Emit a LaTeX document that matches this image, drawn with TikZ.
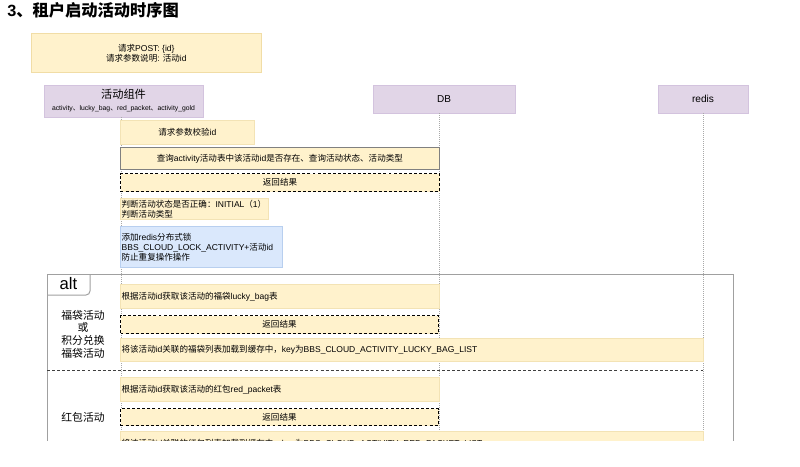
\documentclass[tikz,border=0pt]{standalone}
\usepackage{fontspec}
\setmainfont{Liberation Sans}
\newfontfamily\cjkfont{Noto Sans CJK SC}
\XeTeXinterchartokenstate=1
\newXeTeXintercharclass\cjkclass
\newcount\cjkcnt
\newcommand\setcjkrange[2]{\cjkcnt=#1\relax
  \loop\XeTeXcharclass\cjkcnt=\cjkclass\relax
  \ifnum\cjkcnt<#2\relax\advance\cjkcnt by 1\relax\repeat}
\setcjkrange{"3000}{"303F}
\setcjkrange{"4E00}{"9FFF}
\setcjkrange{"FF00}{"FFEF}
\XeTeXinterchartoks 0 \cjkclass = {\cjkfont}
\XeTeXinterchartoks 4095 \cjkclass = {\cjkfont}
\XeTeXinterchartoks \cjkclass 0 = {\rmfamily}
\XeTeXinterchartoks \cjkclass 4095 = {\rmfamily}
\definecolor{yfill}{HTML}{FFF2CC}
\definecolor{yline}{HTML}{F3E3B5}
\definecolor{pfill}{HTML}{E1D5E7}
\definecolor{pline}{HTML}{D3C3DE}
\definecolor{bfill}{HTML}{DAE8FC}
\definecolor{bline}{HTML}{B8CFEF}
\definecolor{lifeg}{HTML}{A8A8A8}
\definecolor{frameg}{HTML}{A0A0A0}
\definecolor{queryg}{HTML}{808080}
\begin{document}
\begin{tikzpicture}[x=0.75pt,y=-0.75pt,
    msg/.style={fill=yfill,draw=yline,line width=0.5pt,inner sep=0pt,anchor=north west,font=\fontsize{6.4}{7.5}\selectfont},
    msgleft/.style={msg,align=left,inner xsep=1pt},
    ret/.style={msg,draw=black,line width=0.75pt,dash pattern=on 2.2pt off 1.6pt},
    actor/.style={fill=pfill,draw=pline,line width=0.5pt,inner sep=0pt},
    life/.style={draw=lifeg,line width=0.5pt,dash pattern=on 0.75pt off 0.75pt},
    frameline/.style={draw=frameg,line width=0.75pt}]
    \useasboundingbox (0,0) rectangle (800,467);
    \begin{scope}
    \clip (0,0) rectangle (800,440);
    \node[anchor=west,inner sep=0pt,font=\bfseries\fontsize{12.2}{15}\selectfont] (title) at (7,10) {3、租户启动活动时序图};
    \node[msg,draw=yline!120,minimum width=172.5pt,minimum height=29.25pt,align=center] (req) at (31,33) {请求POST: \{id\}\\请求参数说明: 活动id};
    % lifelines
    \node[actor,minimum width=119.25pt,minimum height=24pt] (act) at (123.5,101) {};
    \node[font=\fontsize{8.4}{10}\selectfont,inner sep=0pt] (actT) at (123.5,94) {活动组件};
    \node[font=\fontsize{5.1}{6}\selectfont,inner sep=0pt] (actS) at (123.5,109) {activity、lucky\_bag、red\_packet、activity\_gold};
    \node[actor,minimum width=106.5pt,minimum height=21pt,font=\fontsize{7.5}{9}\selectfont] (db) at (444,99) {DB};
    \node[actor,minimum width=67.5pt,minimum height=21pt,font=\fontsize{7.6}{9}\selectfont] (redis) at (703,99) {redis};
    \coordinate (actEnd) at (121,460);
    \coordinate (dbEnd) at (439,460);
    \coordinate (redisEnd) at (703,460);
    \draw[life] (act.south -| actEnd) -- (actEnd);
    \draw[life] (db.south -| dbEnd) -- (dbEnd);
    \draw[life] (redis.south) -- (redisEnd);
    % messages
    \node[msg,minimum width=100.5pt,minimum height=18pt] (check) at (120,120) {请求参数校验id};
    \node[msg,draw=queryg,minimum width=239.25pt,minimum height=16.5pt] (query) at (120,147) {查询activity活动表中该活动id是否存在、查询活动状态、活动类型};
    \node[ret,minimum width=239.25pt,minimum height=13.5pt] (ret1) at (120,173) {返回结果};
    \node[msgleft,text width=109pt,minimum height=15.75pt] (judge) at (120,198) {判断活动状态是否正确：INITIAL（1）\\判断活动类型};
    \node[msgleft,fill=bfill,draw=bline,text width=119.5pt,minimum height=30.75pt] (lock) at (120,226) {添加redis分布式锁\\BBS\_CLOUD\_LOCK\_ACTIVITY+活动id\\防止重复操作操作};
    % alt
    \draw[frameline] (47,460) -- (47,274) -- (733,274) -- (733,460);
    \draw[frameline,rounded corners=3pt] (47,295) -- (90,295) -- (90,274);
    \node[font=\fontsize{12.5}{14}\selectfont,inner sep=0pt] (alt) at (68.5,284) {alt};
    \node[msgleft,text width=237.25pt,minimum height=18pt] (lucky) at (120,284) {根据活动id获取该活动的福袋lucky\_bag表};
    \node[ret,minimum width=238.5pt,minimum height=13.5pt] (ret2) at (120,315) {返回结果};
    \node[msgleft,text width=435.25pt,minimum height=17.25pt] (luckyCache) at (120,338) {将该活动id关联的福袋列表加载到缓存中，key为BBS\_CLOUD\_ACTIVITY\_LUCKY\_BAG\_LIST};
    \node[align=center,font=\fontsize{8.1}{9.5}\selectfont,inner sep=0pt] (luckyT) at (83,334) {福袋活动\\或\\积分兑换\\福袋活动};
    \coordinate (sepL) at (47,370.5);
    \coordinate (sepR) at (703,370.5);
    \draw[draw=black!75,line width=0.75pt,dash pattern=on 2.2pt off 1.6pt] (sepL) -- (sepR);
    \node[msgleft,text width=237.25pt,minimum height=18pt] (red) at (120,377) {根据活动id获取该活动的红包red\_packet表};
    \node[ret,minimum width=238.5pt,minimum height=12.75pt] (ret3) at (120,408) {返回结果};
    \node[msgleft,text width=435.25pt,minimum height=18pt] (redCache) at (120,431) {将该活动id关联的红包列表加载到缓存中，key为BBS\_CLOUD\_ACTIVITY\_RED\_PACKET\_LIST};
    \node[font=\fontsize{8.1}{9.5}\selectfont,inner sep=0pt] (redT) at (83,417) {红包活动};
    \end{scope}
\end{tikzpicture}
\end{document}
